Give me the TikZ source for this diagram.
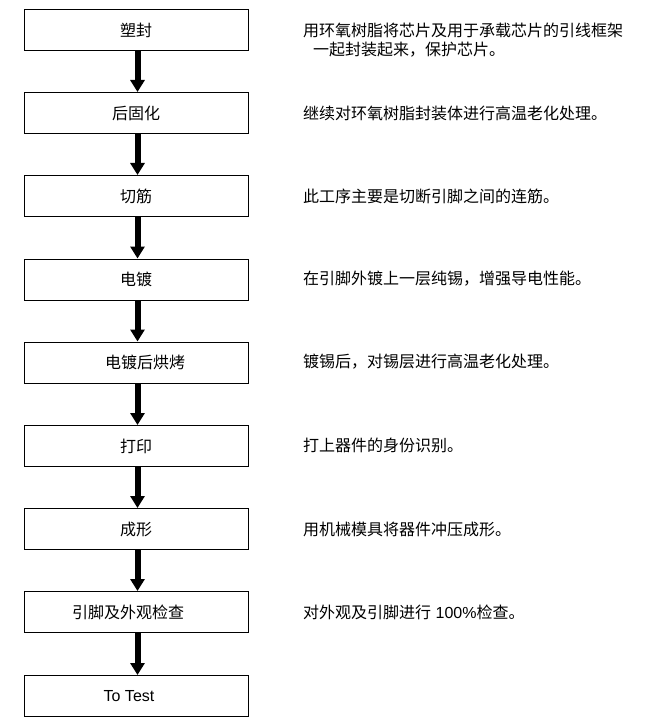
\documentclass[tikz,border=0pt]{standalone}
\usepackage{fontspec}
\setmainfont{Liberation Sans}
\newfontfamily\cjk{Noto Sans CJK SC}
\usetikzlibrary{arrows.meta}
\begin{document}
\begin{tikzpicture}[x=1pt,y=1pt,
  stepbox/.style={draw=black,line width=1pt,minimum width=224pt,minimum height=41pt,inner sep=0pt,font=\fontsize{16}{19}\selectfont\cjk},
  desc/.style={anchor=west,inner sep=0pt,font=\fontsize{16}{19}\selectfont\cjk},
  flowarrow/.style={line width=6pt,-{Triangle[width=14pt,length=12pt]}}]
\useasboundingbox[fill=white] (0,0) rectangle (655,-722);
\node[stepbox] (b1) at (136,-30) {塑封};
\node[stepbox] (b2) at (136,-113) {后固化};
\node[stepbox] (b3) at (136,-196) {切筋};
\node[stepbox] (b4) at (136,-279.5) {电镀};
\node[stepbox] (b5) at (136,-362.5) {\kern18pt 电镀后烘烤};
\node[stepbox] (b6) at (136,-446) {打印};
\node[stepbox] (b7) at (136,-529) {成形};
\node[stepbox] (b8) at (136,-612) {引脚及外观检查\kern16pt\relax};
\node[stepbox,font=\fontsize{16}{19}\selectfont] (b9) at (136,-696) {To Test\kern14pt\relax};
\foreach \a/\b in {b1/b2,b2/b3,b3/b4,b4/b5,b5/b6,b6/b7,b7/b8,b8/b9}
  \draw[flowarrow] ([xshift=1.5pt]\a.south) -- ([xshift=1.5pt]\b.north);
\node[desc] (t1) at (303,-30) {用环氧树脂将芯片及用于承载芯片的引线框架};
\node[desc] (t1b) at (313,-50) {一起封装起来，保护芯片。};
\node[desc] (t2) at (303,-113) {继续对环氧树脂封装体进行高温老化处理。};
\node[desc] (t3) at (303,-196) {此工序主要是切断引脚之间的连筋。};
\node[desc] (t4) at (303,-279) {在引脚外镀上一层纯锡，增强导电性能。};
\node[desc] (t5) at (303,-362) {镀锡后，对锡层进行高温老化处理。};
\node[desc] (t6) at (303,-445) {打上器件的身份识别。};
\node[desc] (t7) at (303,-529) {用机械模具将器件冲压成形。};
\node[desc] (t8) at (303,-612) {对外观及引脚进行{\rmfamily\ 100\%}检查。};
\end{tikzpicture}
\end{document}
